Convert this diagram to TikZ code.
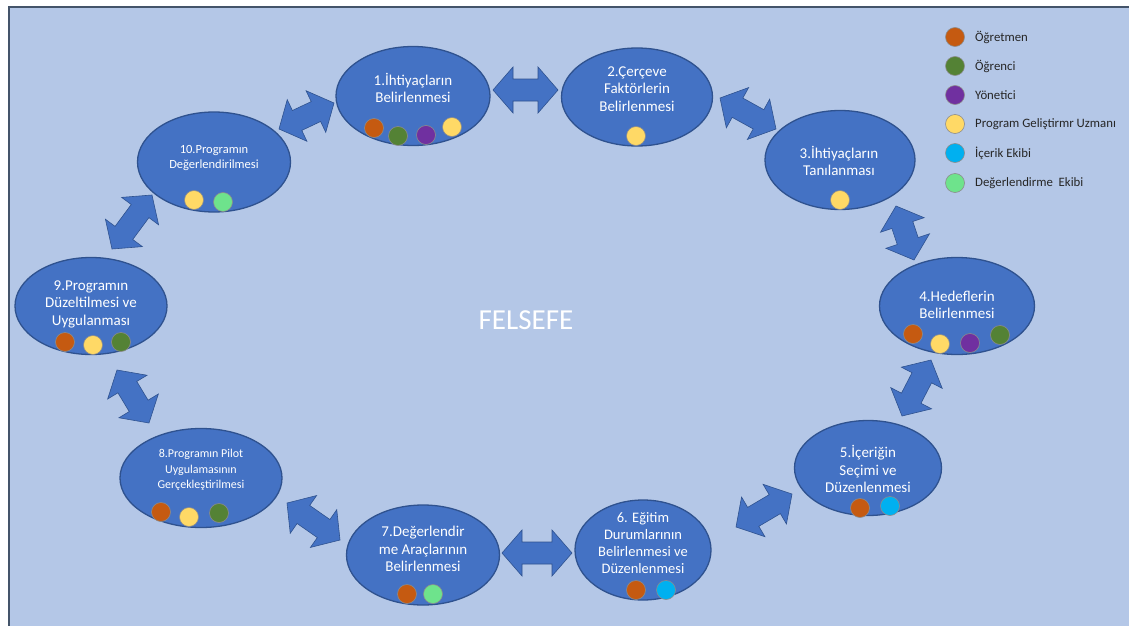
\documentclass[tikz,border=0pt]{standalone}
\usepackage{fontspec}
\setmainfont{Carlito}
\usetikzlibrary{calc,shapes.geometric}
\definecolor{bgc}{HTML}{B4C7E7}
\definecolor{framec}{HTML}{44546A}
\definecolor{ellc}{HTML}{4472C4}
\definecolor{elld}{HTML}{2F528F}
\definecolor{cOr}{HTML}{C55A11}
\definecolor{cGr}{HTML}{548235}
\definecolor{cPu}{HTML}{7030A0}
\definecolor{cYe}{HTML}{FFD966}
\definecolor{cBl}{HTML}{00B0F0}
\definecolor{cLg}{HTML}{6EE38C}
\newcommand\dblarrow[3]{%
  \coordinate (#1-h1) at ($(#2)!20pt!(#3)$);
  \coordinate (#1-h2) at ($(#3)!20pt!(#2)$);
  \filldraw[barrow] (#2) -- ($(#1-h1)!23pt!90:(#3)$) -- ($(#1-h1)!11pt!90:(#3)$)
    -- ($(#1-h2)!11pt!-90:(#2)$) -- ($(#1-h2)!23pt!-90:(#2)$) -- (#3)
    -- ($(#1-h2)!23pt!90:(#2)$) -- ($(#1-h2)!11pt!90:(#2)$)
    -- ($(#1-h1)!11pt!-90:(#3)$) -- ($(#1-h1)!23pt!-90:(#3)$) -- cycle;}
\begin{document}
\begin{tikzpicture}[x=1pt,y=-1pt,
  ell/.style={ellipse,draw=elld,fill=ellc,line width=1.3pt,inner sep=0pt},
  lbl/.style={text=white,align=center,font=\fontsize{15}{17.5}\selectfont,inner sep=0pt},
  dot/.style={circle,draw=black!45,line width=0.6pt,minimum size=19pt,inner sep=0pt},
  barrow/.style={fill=ellc,draw=elld,line width=0.6pt,line join=miter},
  leg/.style={anchor=west,text=black!85,font=\fontsize{12.8}{15}\selectfont,inner sep=0pt}]
\useasboundingbox (0,0) rectangle (1129,626);
\fill[bgc] (9,7) rectangle (1129,626);
\draw[framec,line width=1.2pt] (9,626) -- (9,7) -- (1129,7);

% ellipses
\node[ell,minimum width=154pt,minimum height=99pt] (e1) at (413,96) {};
\node[ell,minimum width=151pt,minimum height=98pt] (e2) at (637,97) {};
\node[ell,minimum width=150pt,minimum height=99pt] (e3) at (840,160) {};
\node[ell,minimum width=155pt,minimum height=97pt] (e4) at (957,306) {};
\node[ell,minimum width=147pt,minimum height=95pt] (e5) at (868,468) {};
\node[ell,minimum width=136pt,minimum height=100pt] (e6) at (643,550) {};
\node[ell,minimum width=153pt,minimum height=100pt] (e7) at (423,555) {};
\node[ell,minimum width=162pt,minimum height=99pt] (e8) at (201,478) {};
\node[ell,minimum width=152pt,minimum height=97pt] (e9) at (91,306) {};
\node[ell,minimum width=153pt,minimum height=100pt] (e10) at (214,162) {};

% labels
\node[lbl] (t1) at (413,88) {1.İhtiyaçların\\Belirlenmesi};
\node[lbl] (t2) at (637,89) {2.Çerçeve\\Faktörlerin\\Belirlenmesi};
\node[lbl] (t3) at (839,161) {3.İhtiyaçların\\Tanılanması};
\node[lbl] (t4) at (957,305) {4.Hedeflerin\\Belirlenmesi};
\node[lbl] (t5) at (868,469) {5.İçeriğin\\Seçimi ve\\Düzenlenmesi};
\node[lbl,font=\fontsize{14.5}{17}\selectfont] (t6) at (643,543) {6. Eğitim\\Durumlarının\\Belirlenmesi ve\\Düzenlenmesi};
\node[lbl] (t7) at (423,549) {7.Değerlendir\\me Araçlarının\\Belirlenmesi};
\node[lbl,font=\fontsize{12}{15.5}\selectfont] (t8) at (201,470) {8.Programın Pilot\\Uygulamasının\\Gerçekleştirilmesi};
\node[lbl] (t9) at (91,304) {9.Programın\\Düzeltilmesi ve\\Uygulanması};
\node[lbl,font=\fontsize{12.5}{15}\selectfont] (t10) at (214,158) {10.Programın\\Değerlendirilmesi};

\node[text=white,font=\fontsize{29}{31}\selectfont,inner sep=0pt] (fel) at (526,320) {FELSEFE};

% dots
\node[dot,fill=cOr] (d1a) at (374,128) {};
\node[dot,fill=cGr] (d1b) at (398,136) {};
\node[dot,fill=cPu] (d1c) at (426,135) {};
\node[dot,fill=cYe] (d1d) at (452,127) {};
\node[dot,fill=cYe] (d2a) at (636,136) {};
\node[dot,fill=cYe] (d3a) at (840,200) {};
\node[dot,fill=cOr] (d4a) at (913,334) {};
\node[dot,fill=cYe] (d4b) at (940,344) {};
\node[dot,fill=cPu] (d4c) at (970,343) {};
\node[dot,fill=cGr] (d4d) at (1000,335) {};
\node[dot,fill=cOr] (d5a) at (860,508) {};
\node[dot,fill=cBl] (d5b) at (890,506) {};
\node[dot,fill=cOr] (d6a) at (636,590) {};
\node[dot,fill=cBl] (d6b) at (666,590) {};
\node[dot,fill=cOr] (d7a) at (407,594) {};
\node[dot,fill=cLg] (d7b) at (433,594) {};
\node[dot,fill=cOr] (d8a) at (161,512) {};
\node[dot,fill=cYe] (d8b) at (189,517) {};
\node[dot,fill=cGr] (d8c) at (219,513) {};
\node[dot,fill=cOr] (d9a) at (65,342) {};
\node[dot,fill=cYe] (d9b) at (93,345) {};
\node[dot,fill=cGr] (d9c) at (121,342) {};
\node[dot,fill=cYe] (d10a) at (194,200) {};
\node[dot,fill=cLg] (d10b) at (223,202) {};

% legend
\node[dot,fill=cOr] (l1) at (955,37) {};
\node[dot,fill=cGr] (l2) at (955,66) {};
\node[dot,fill=cPu] (l3) at (955,95) {};
\node[dot,fill=cYe] (l4) at (955,124) {};
\node[dot,fill=cBl] (l5) at (955,153) {};
\node[dot,fill=cLg] (l6) at (955,183) {};
\node[leg] (lt1) at (975,37) {Öğretmen};
\node[leg] (lt2) at (975,66) {Öğrenci};
\node[leg] (lt3) at (975,95) {Yönetici};
\node[leg] (lt4) at (975,124) {Program Geliştirmr Uzmanı};
\node[leg] (lt5) at (975,153) {İçerik Ekibi};
\node[leg] (lt6) at (975,183) {Değerlendirme\ \ Ekibi};

% block arrows
\coordinate (a12s) at (493,90);  \coordinate (a12e) at (558,90);
\coordinate (a23s) at (720,98);  \coordinate (a23e) at (776,129);
\coordinate (a34s) at (896,206); \coordinate (a34e) at (914,260);
\coordinate (a45s) at (931,360); \coordinate (a45e) at (902,416);
\coordinate (a56s) at (792,494); \coordinate (a56e) at (736,527);
\coordinate (a67s) at (572,553); \coordinate (a67e) at (502,553);
\coordinate (a78s) at (340,540); \coordinate (a78e) at (287,503);
\coordinate (a89s) at (149,423); \coordinate (a89e) at (117,370);
\coordinate (a910s) at (112,249); \coordinate (a910e) at (152,195);
\coordinate (a101s) at (279,129); \coordinate (a101e) at (334,103);
\dblarrow{A12}{a12s}{a12e}
\dblarrow{A23}{a23s}{a23e}
\dblarrow{A34}{a34s}{a34e}
\dblarrow{A45}{a45s}{a45e}
\dblarrow{A56}{a56s}{a56e}
\dblarrow{A67}{a67s}{a67e}
\dblarrow{A78}{a78s}{a78e}
\dblarrow{A89}{a89s}{a89e}
\dblarrow{A910}{a910s}{a910e}
\dblarrow{A101}{a101s}{a101e}
\end{tikzpicture}
\end{document}
